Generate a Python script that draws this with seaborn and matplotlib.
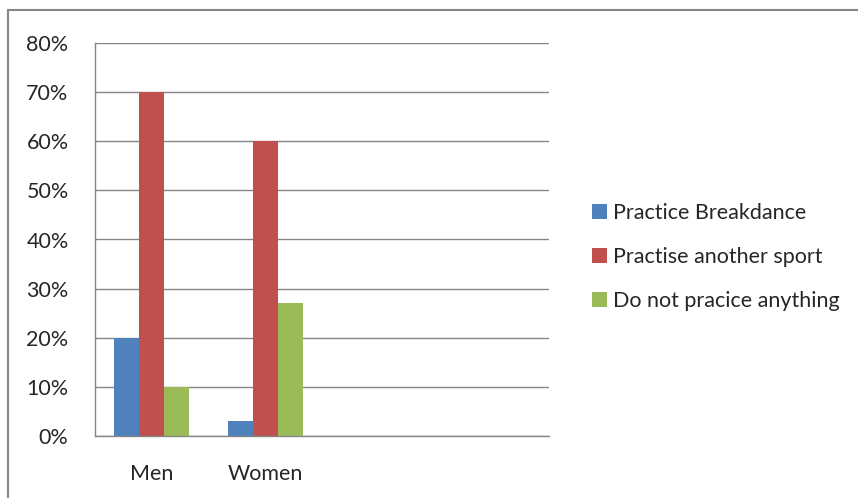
import numpy as np
import pandas as pd
import matplotlib
matplotlib.use("Agg")
import matplotlib.pyplot as plt
from matplotlib.lines import Line2D
import seaborn as sns

sns.set_style("white")
plt.rcParams['font.family'] = ['Lato', 'DejaVu Sans']

groups = ["Men", "Women"]
slots = ["Men", "Women", "slot3", "slot4"]
series = ["Practice Breakdance", "Practise another sport", "Do not pracice anything"]
values = {
    "Practice Breakdance": [20, 3],
    "Practise another sport": [70, 60],
    "Do not pracice anything": [10, 27],
}
colors = ["#4F81BD", "#C0504D", "#9BBB59"]
yticks = [0, 10, 20, 30, 40, 50, 60, 70, 80]

rows = []
for s in series:
    for g, v in zip(groups, values[s]):
        rows.append({"group": g, "series": s, "value": v})
df = pd.DataFrame(rows)

fig = plt.figure(figsize=(8.58, 4.98), dpi=100)
ax = fig.add_axes([95 / 858, 1 - 436 / 498, 454 / 858, 393 / 498])

sns.barplot(data=df, x="group", y="value", hue="series", order=slots,
            hue_order=series, palette=colors, width=0.66, saturation=1,
            linewidth=0, ax=ax, legend=True)

grey = "#868686"
fs = 15.5
ax.set_xlim(-0.5, 3.5)
ax.set_ylim(0, 80)
ax.set_yticks(yticks)
ax.set_yticklabels([f"{t}%" for t in yticks], fontsize=fs)
ax.yaxis.grid(True, color=grey, linewidth=1)
ax.set_axisbelow(True)
ax.set_xticks(np.arange(-0.5, 4, 1))
ax.set_xticklabels([])
ax.set_xticks(np.arange(len(groups)), minor=True)
ax.set_xticklabels(groups, minor=True, fontsize=fs)
ax.tick_params(axis="x", which="major", direction="out", length=6, color=grey, width=1)
ax.tick_params(axis="x", which="minor", length=0, pad=20)
ax.tick_params(axis="y", direction="out", length=7, color=grey, width=1, pad=12)
ax.set_xlabel("")
ax.set_ylabel("")
for side in ["top", "right"]:
    ax.spines[side].set_visible(False)
for side in ["left", "bottom"]:
    ax.spines[side].set_color(grey)
    ax.spines[side].set_linewidth(1)

handles, labels = ax.get_legend_handles_labels()
ax.get_legend().remove()
fig.legend(handles, labels, loc="center left", bbox_to_anchor=(581 / 858, 1 - 257 / 498),
           frameon=False, fontsize=fs, labelspacing=1.1, handlelength=0.7,
           handleheight=0.7, handletextpad=0.3, borderpad=0)

# outer chart border (only top and left visible in the crop)
fig.add_artist(Line2D([8 / 858, 1], [1 - 10 / 498, 1 - 10 / 498], color=grey, linewidth=1.5))
fig.add_artist(Line2D([8 / 858, 8 / 858], [0, 1 - 10 / 498], color=grey, linewidth=1.5))

fig.savefig("out.png", dpi=100)
